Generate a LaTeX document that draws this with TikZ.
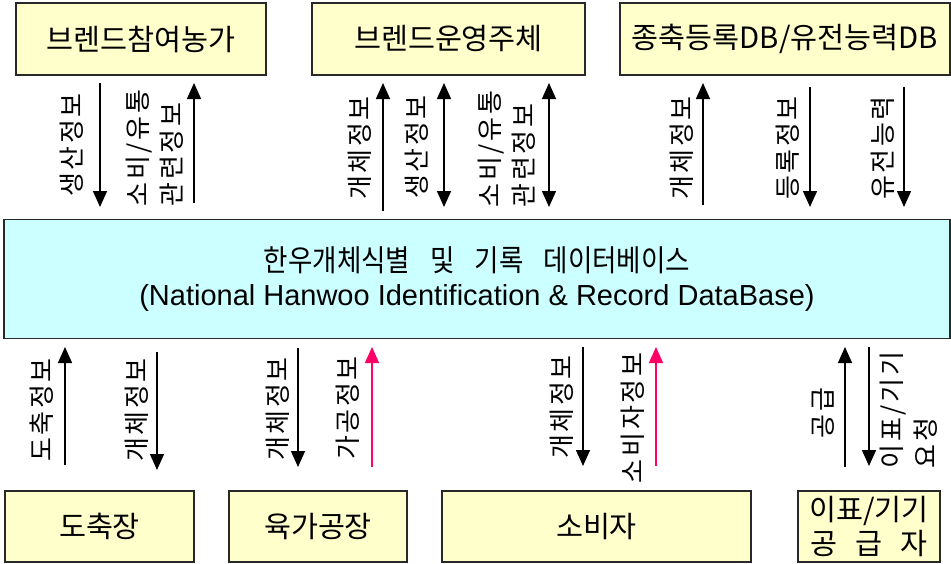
\documentclass[tikz,border=0pt]{standalone}
\usepackage{fontspec}
\setmainfont{Liberation Sans}
\newfontfamily\krbox{Noto Sans CJK KR}
\newfontfamily\krv[LetterSpace=10]{Noto Sans CJK KR}
\newfontfamily\krmain[FakeStretch=0.885]{Noto Sans CJK KR}
\usetikzlibrary{arrows.meta}
\definecolor{boxyellow}{RGB}{255,255,204}
\definecolor{boxcyan}{RGB}{204,255,255}
\definecolor{pinkline}{RGB}{255,0,102}
\definecolor{edge}{RGB}{40,40,40}
\begin{document}
\begin{tikzpicture}[x=0.75pt,y=-0.75pt,
  wh/.style 2 args={minimum width=#1*0.75pt, minimum height=#2*0.75pt},
  ybox/.style={draw=edge, line width=1pt, fill=boxyellow, inner sep=0pt,
    font=\krbox\fontsize{22}{25.5}\selectfont, align=center},
  mbox/.style={draw=edge, line width=1pt, fill=boxcyan, inner sep=0pt,
    font=\fontsize{21.75}{25}\selectfont, align=center},
  vlab/.style={rotate=90, inner sep=0pt, font=\krv\fontsize{19.5}{25.5}\selectfont, align=left},
  arr/.style={line width=1.1pt, -{Triangle[width=10.5pt,length=12pt]}},
  darr/.style={line width=1.1pt, {Triangle[width=10.5pt,length=12pt]}-{Triangle[width=10.5pt,length=12pt]}},
  parr/.style={arr, draw=pinkline}]
\useasboundingbox (0,0) rectangle (951,564);

% top boxes
\node[ybox, wh={250}{72}] (t1) at (141,39) {브렌드참여농가};
\node[ybox, wh={273}{72}] (t2) at (448.5,39) {브렌드운영주체};
\node[ybox, wh={330}{72}] (t3) at (785,39) {종축등록DB/유전능력DB};

% main box
\node[mbox, wh={946}{119}] (db) at (477,279)
  {{\krmain\fontsize{22.5}{25}\selectfont 한우개체식별\hspace{15pt}및\hspace{15pt}기록\hspace{15pt}데이터베이스}\\
   (National Hanwoo Identification \& Record DataBase)};

% bottom boxes
\node[ybox, wh={189}{71}] (b1) at (99.5,526.5) {도축장};
\node[ybox, wh={178}{71}] (b2) at (318,526.5) {육가공장};
\node[ybox, wh={309}{71}] (b3) at (596.5,526.5) {소비자};
\node[ybox, wh={142}{71}] (b4) at (869,526.5)
  {이표/기기\\\hbox to 88pt{공\hfill 급\hfill 자}};

% top arrows
\coordinate (p1a) at (100,83);  \coordinate (p1b) at (100,207);
\coordinate (p2a) at (194,203); \coordinate (p2b) at (194,83);
\coordinate (p3a) at (383,211); \coordinate (p3b) at (383,83);
\coordinate (p4a) at (444,83);  \coordinate (p4b) at (444,207);
\coordinate (p5a) at (549,83);  \coordinate (p5b) at (549,207);
\coordinate (p6a) at (703,205); \coordinate (p6b) at (703,83);
\coordinate (p7a) at (810,87);  \coordinate (p7b) at (810,207);
\coordinate (p8a) at (904,87);  \coordinate (p8b) at (904,207);
\draw[arr] (p1a) -- (p1b);
\draw[arr] (p2a) -- (p2b);
\draw[arr] (p3a) -- (p3b);
\draw[darr] (p4a) -- (p4b);
\draw[darr] (p5a) -- (p5b);
\draw[arr] (p6a) -- (p6b);
\draw[arr] (p7a) -- (p7b);
\draw[arr] (p8a) -- (p8b);

% top labels
\node[vlab] (l1) at (72,145) {생산정보};
\node[vlab] (l2) at (155,148) {소비/유통\\관련정보};
\node[vlab] (l3) at (360,148) {개체정보};
\node[vlab] (l4) at (417,147) {생산정보};
\node[vlab] (l5) at (507,149) {소비/유통\\관련정보};
\node[vlab] (l6) at (682,148) {개체정보};
\node[vlab] (l7) at (788,148) {등록정보};
\node[vlab] (l8) at (883,148) {유전능력};

% bottom arrows
\coordinate (q1a) at (65,465);  \coordinate (q1b) at (65,347);
\coordinate (q2a) at (157,352); \coordinate (q2b) at (157,470);
\coordinate (q3a) at (298,348); \coordinate (q3b) at (298,467);
\coordinate (q4a) at (372,467); \coordinate (q4b) at (372,347);
\coordinate (q5a) at (583,347); \coordinate (q5b) at (583,466);
\coordinate (q6a) at (656,466); \coordinate (q6b) at (656,347);
\coordinate (q7a) at (845,467); \coordinate (q7b) at (845,347);
\coordinate (q8a) at (869,347); \coordinate (q8b) at (869,466);
\draw[arr] (q1a) -- (q1b);
\draw[arr] (q2a) -- (q2b);
\draw[arr] (q3a) -- (q3b);
\draw[parr] (q4a) -- (q4b);
\draw[arr] (q5a) -- (q5b);
\draw[parr] (q6a) -- (q6b);
\draw[arr] (q7a) -- (q7b);
\draw[arr] (q8a) -- (q8b);

% bottom labels
\node[vlab] (m1) at (42,410) {도축정보};
\node[vlab] (m2) at (137,410) {개체정보};
\node[vlab] (m3) at (278,409) {개체정보};
\node[vlab] (m4) at (348,408) {가공정보};
\node[vlab] (m5) at (562,407) {개체정보};
\node[vlab] (m6) at (633,418) {소비자정보};
\node[vlab] (m7) at (823,413) {공급};
\node[vlab] (m8) at (909,410) {이표/기기\\요청};
\end{tikzpicture}
\end{document}
